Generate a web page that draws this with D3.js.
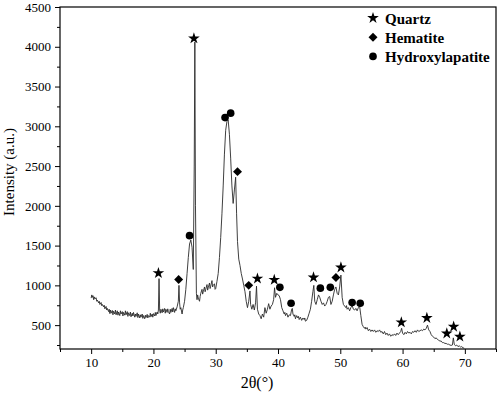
<!DOCTYPE html>
<html>
<head>
<meta charset="utf-8">
<script src="https://cdn.jsdelivr.net/npm/d3@7"></script>
<style>
  body { margin: 0; background: #fff; }
</style>
</head>
<body>
<div id="chart"></div>
<script>
//Chart size
const width = 498;
const height = 393;
const plotLeft = 60, plotRight = 496, plotTop = 7, plotBottom = 349;
const serif = "'Liberation Serif', 'Times New Roman', serif";

//Ticks
const xTicks = [10, 20, 30, 40, 50, 60, 70];
const xMinor = [5, 15, 25, 35, 45, 55, 65, 75];
const yTicks = [500, 1000, 1500, 2000, 2500, 3000, 3500, 4000, 4500];
const yMinor = [250, 750, 1250, 1750, 2250, 2750, 3250, 3750, 4250];

//XRD pattern, [2theta, intensity]
const pattern = [
  [10.0, 840], [10.1, 880], [10.2, 850], [10.3, 870], [10.4, 820], [10.5, 855], [10.6, 830], [10.8, 845],
  [10.9, 800], [11.0, 815], [11.2, 780], [11.3, 800], [11.4, 760], [11.6, 785], [11.7, 745], [11.8, 760],
  [12.0, 730], [12.1, 750], [12.2, 705], [12.4, 735], [12.5, 690], [12.6, 710], [12.8, 670], [12.9, 700],
  [13.0, 645], [13.1, 690], [13.2, 650], [13.4, 685], [13.5, 630], [13.6, 675], [13.8, 640], [13.9, 690],
  [14.0, 630], [14.2, 680], [14.3, 625], [14.4, 665], [14.6, 620], [14.7, 680], [14.8, 640], [15.0, 670],
  [15.1, 615], [15.2, 660], [15.4, 625], [15.5, 680], [15.6, 630], [15.8, 670], [15.9, 610], [16.0, 655],
  [16.2, 620], [16.3, 665], [16.4, 605], [16.6, 650], [16.7, 615], [16.8, 660], [17.0, 600], [17.1, 640],
  [17.2, 610], [17.4, 655], [17.5, 595], [17.6, 640], [17.8, 590], [17.9, 630], [18.0, 600], [18.2, 640],
  [18.3, 585], [18.4, 620], [18.6, 580], [18.7, 625], [18.8, 595], [19.0, 635], [19.1, 590], [19.2, 620],
  [19.4, 600], [19.5, 650], [19.6, 605], [19.8, 640], [19.9, 600], [20.0, 645], [20.2, 615], [20.3, 660],
  [20.4, 620], [20.6, 665], [20.7, 640], [20.8, 690], [20.9, 1085], [21.0, 690], [21.1, 650], [21.2, 700],
  [21.4, 655], [21.5, 705], [21.6, 665], [21.8, 710], [21.9, 650], [22.0, 700], [22.2, 660], [22.3, 705],
  [22.4, 670], [22.6, 640], [22.7, 700], [22.8, 660], [23.0, 710], [23.1, 665], [23.2, 720], [23.4, 660],
  [23.5, 705], [23.6, 680], [23.8, 730], [24.0, 800], [24.1, 1000], [24.2, 780], [24.3, 700], [24.4, 720],
  [24.6, 640], [24.7, 690], [24.8, 720], [25.0, 800], [25.2, 950], [25.4, 1150], [25.6, 1350], [25.8, 1520],
  [26.0, 1570], [26.2, 1480], [26.4, 1200], [26.55, 2500], [26.65, 4060], [26.75, 2000], [26.9, 900], [27.0, 820],
  [27.1, 880], [27.2, 840], [27.4, 800], [27.5, 860], [27.6, 900], [27.8, 950], [27.9, 890], [28.0, 920],
  [28.2, 980], [28.3, 920], [28.4, 950], [28.6, 1010], [28.7, 940], [28.8, 970], [29.0, 1030], [29.1, 960],
  [29.2, 990], [29.4, 1060], [29.5, 980], [29.6, 1000], [29.8, 1020], [29.9, 950], [30.0, 960], [30.2, 1050],
  [30.4, 1150], [30.6, 1350], [30.8, 1600], [31.0, 1900], [31.2, 2250], [31.4, 2650], [31.6, 2950], [31.8, 3060],
  [32.0, 3080], [32.2, 2900], [32.4, 2600], [32.6, 2250], [32.8, 2030], [33.0, 2200], [33.2, 2360], [33.35, 1900],
  [33.5, 1550], [33.7, 1330], [33.9, 1250], [34.1, 1150], [34.3, 1080], [34.5, 1000], [34.7, 920], [34.9, 800],
  [35.1, 720], [35.3, 800], [35.5, 930], [35.6, 760], [35.8, 700], [36.0, 760], [36.2, 690], [36.4, 780],
  [36.55, 990], [36.7, 700], [36.9, 640], [37.1, 620], [37.3, 580], [37.5, 640], [37.7, 600], [37.9, 720],
  [38.1, 650], [38.3, 700], [38.5, 770], [38.7, 700], [38.9, 740], [39.1, 760], [39.3, 820], [39.45, 970],
  [39.6, 850], [39.8, 900], [40.0, 880], [40.2, 870], [40.4, 820], [40.6, 720], [40.8, 680], [41.0, 640],
  [41.1, 660], [41.2, 620], [41.4, 650], [41.6, 600], [41.8, 630], [42.0, 620], [42.2, 700], [42.3, 710],
  [42.4, 640], [42.6, 610], [42.7, 630], [42.8, 580], [43.0, 620], [43.2, 590], [43.3, 610], [43.4, 570],
  [43.6, 600], [43.8, 560], [44.0, 590], [44.2, 570], [44.3, 590], [44.4, 550], [44.6, 560], [44.8, 600],
  [45.0, 650], [45.2, 700], [45.4, 800], [45.6, 920], [45.75, 1000], [45.9, 800], [46.1, 760], [46.3, 820],
  [46.5, 880], [46.7, 850], [46.9, 800], [47.1, 760], [47.3, 780], [47.5, 740], [47.7, 760], [47.9, 800],
  [48.1, 850], [48.3, 860], [48.5, 760], [48.7, 800], [48.9, 880], [49.1, 950], [49.3, 980], [49.5, 900],
  [49.7, 880], [49.9, 980], [50.1, 1130], [50.3, 850], [50.5, 760], [50.7, 740], [50.9, 720], [51.0, 745],
  [51.1, 700], [51.3, 720], [51.5, 680], [51.7, 720], [51.9, 750], [52.1, 700], [52.3, 690], [52.5, 710],
  [52.7, 680], [52.9, 720], [53.1, 740], [53.3, 620], [53.5, 510], [53.7, 480], [53.9, 460], [54.0, 475],
  [54.1, 450], [54.3, 470], [54.5, 430], [54.7, 450], [54.9, 420], [55.1, 440], [55.3, 420], [55.5, 440],
  [55.7, 410], [55.9, 430], [56.1, 420], [56.3, 440], [56.5, 410], [56.7, 420], [56.9, 390], [57.1, 420],
  [57.3, 380], [57.5, 400], [57.7, 370], [57.9, 390], [58.1, 360], [58.3, 380], [58.5, 370], [58.7, 390],
  [58.9, 370], [59.1, 400], [59.3, 380], [59.5, 400], [59.7, 420], [59.85, 460], [60.0, 400], [60.2, 380],
  [60.4, 410], [60.6, 390], [60.8, 420], [61.0, 400], [61.2, 410], [61.4, 390], [61.6, 420], [61.8, 410],
  [62.0, 430], [62.2, 410], [62.4, 440], [62.6, 420], [62.8, 430], [63.0, 440], [63.2, 430], [63.4, 450],
  [63.6, 440], [63.8, 460], [64.0, 500], [64.2, 440], [64.4, 420], [64.6, 380], [64.8, 360], [65.0, 350],
  [65.2, 330], [65.4, 340], [65.6, 320], [65.8, 310], [66.0, 300], [66.2, 300], [66.4, 280], [66.6, 280],
  [66.8, 270], [67.0, 270], [67.2, 260], [67.4, 260], [67.6, 250], [67.8, 245], [68.0, 250], [68.15, 340],
  [68.3, 260], [68.5, 240], [68.7, 250], [68.9, 230], [69.1, 240], [69.3, 225], [69.5, 230], [69.7, 215],
  [69.9, 210]
];

//Phase markers [2theta, intensity]
const quartzPeaks = [[20.8, 1155], [26.5, 4105], [36.7, 1085], [39.4, 1070], [45.7, 1100], [50.1, 1225],
  [59.8, 535], [63.9, 590], [67.1, 395], [68.2, 480], [69.2, 355]];
const hematitePeaks = [[24.05, 1075], [33.5, 2430], [35.3, 1000], [49.3, 1100]];
const hapPeaks = [[25.8, 1625], [31.5, 3110], [32.4, 3165], [40.3, 975], [42.1, 775], [46.8, 965],
  [48.4, 975], [51.9, 785], [53.2, 775]];

const legendItems = ["Quartz", "Hematite", "Hydroxylapatite"];

//Scales
const xScale = d3.scaleLinear().domain([5, 75]).range([plotLeft, plotRight]);
const yScale = d3.scaleLinear().domain([200, 4500]).range([plotBottom, plotTop]);

const svg = d3.select("#chart")
  .append("svg")
  .attr("width", width)
  .attr("height", height);

//Axes, outward ticks
const styleAxis = g => {
  g.attr("font-family", serif).attr("font-size", 13);
  g.select(".domain").remove();
  g.selectAll("text").attr("fill", "#000");
  g.selectAll("line").attr("stroke", "#000");
};

svg.append("g")
  .attr("transform", "translate(0," + plotBottom + ")")
  .call(d3.axisBottom(xScale).tickValues(xTicks).tickSize(5).tickPadding(4).tickFormat(d3.format("d")))
  .call(styleAxis);

svg.append("g")
  .attr("transform", "translate(0," + plotBottom + ")")
  .call(d3.axisBottom(xScale).tickValues(xMinor).tickSize(3).tickFormat(""))
  .call(styleAxis);

svg.append("g")
  .attr("transform", "translate(" + plotLeft + ",0)")
  .call(d3.axisLeft(yScale).tickValues(yTicks).tickSize(5).tickPadding(4).tickFormat(d3.format("d")))
  .call(styleAxis);

svg.append("g")
  .attr("transform", "translate(" + plotLeft + ",0)")
  .call(d3.axisLeft(yScale).tickValues(yMinor).tickSize(3).tickFormat(""))
  .call(styleAxis);

//Frame
svg.append("rect")
  .attr("x", plotLeft)
  .attr("y", plotTop)
  .attr("width", plotRight - plotLeft)
  .attr("height", plotBottom - plotTop)
  .attr("fill", "none")
  .attr("stroke", "#000")
  .attr("stroke-width", 1.2);

//Pattern line
const line = d3.line()
  .x(d => xScale(d[0]))
  .y(d => yScale(d[1]));

svg.append("path")
  .datum(pattern)
  .attr("d", line)
  .attr("fill", "none")
  .attr("stroke", "#2a2a2a")
  .attr("stroke-width", 0.9)
  .attr("stroke-linejoin", "round");

//Markers
const star = d3.symbol().type(d3.symbolStar).size(42);
const diamond = d3.symbol().type(d3.symbolSquare).size(40);
const dot = d3.symbol().type(d3.symbolCircle).size(46);

svg.append("g").selectAll("path")
  .data(quartzPeaks)
  .enter()
  .append("path")
  .attr("d", star)
  .attr("transform", d => "translate(" + xScale(d[0]) + "," + yScale(d[1]) + ")");

svg.append("g").selectAll("path")
  .data(hematitePeaks)
  .enter()
  .append("path")
  .attr("d", diamond)
  .attr("transform", d => "translate(" + xScale(d[0]) + "," + yScale(d[1]) + ") rotate(45)");

svg.append("g").selectAll("path")
  .data(hapPeaks)
  .enter()
  .append("path")
  .attr("d", dot)
  .attr("transform", d => "translate(" + xScale(d[0]) + "," + yScale(d[1]) + ")");

//Legend
const symbols = [star, diamond, dot];
legendItems.forEach((name, i) => {
  const y = 18 + i * 19.2;
  svg.append("path")
    .attr("d", symbols[i])
    .attr("transform", "translate(373," + y + ")" + (i === 1 ? " rotate(45)" : ""));
  svg.append("text")
    .attr("x", 385)
    .attr("y", y + 5.5)
    .attr("font-family", serif)
    .attr("font-size", 15)
    .attr("font-weight", "bold")
    .text(name);
});

//Axis titles
svg.append("text")
  .attr("text-anchor", "middle")
  .attr("transform", "translate(14,172) rotate(-90)")
  .attr("font-family", serif)
  .attr("font-size", 15)
  .text("Intensity (a.u.)");

svg.append("text")
  .attr("text-anchor", "middle")
  .attr("x", 257)
  .attr("y", 388)
  .attr("font-family", serif)
  .attr("font-size", 16)
  .text("2θ(°)");
</script>
</body>
</html>
